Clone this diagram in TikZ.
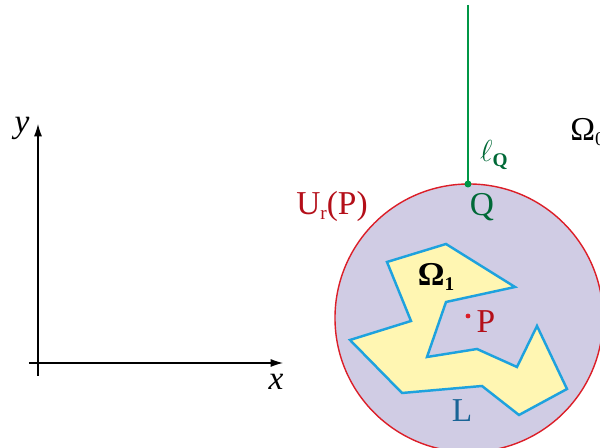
\documentclass[tikz,border=0pt]{standalone}
\usepackage{fontspec}
\setmainfont{Liberation Serif}
\usetikzlibrary{arrows.meta}
\definecolor{lav}{RGB}{208,204,228}
\definecolor{redc}{RGB}{220,30,40}
\definecolor{redt}{RGB}{180,15,25}
\definecolor{yel}{RGB}{255,246,178}
\definecolor{bluec}{RGB}{30,162,222}
\definecolor{bluet}{RGB}{25,100,150}
\definecolor{greenc}{RGB}{0,150,70}
\definecolor{greent}{RGB}{0,105,55}
\tikzset{
  lbl/.style={inner sep=0pt, font=\fontsize{19}{22}\selectfont},
  axis/.style={line width=0.6pt, -{Latex[length=7pt,width=4.5pt]}}
}
\newcommand{\sub}[1]{\raisebox{-0.35ex}{\fontsize{11}{13}\selectfont #1}}
\begin{document}
\begin{tikzpicture}[x=0.02cm,y=-0.02cm]
\useasboundingbox (0,0) rectangle (600,448);
\clip (0,0) rectangle (600,448);
% axes
\coordinate (xs) at (29,363);
\coordinate (xe) at (283,363);
\coordinate (ys) at (38,376);
\coordinate (ye) at (38,124);
\draw[axis] (xs) -- (xe);
\draw[axis] (ys) -- (ye);
\node[lbl] (xl) at (276,382) {\textit{x}};
\node[lbl] (yl) at (22,128) {\textit{y}};
% disc
\node[circle, draw=redc, fill=lav, line width=0.8pt, minimum size=268*0.02cm, inner sep=0pt] (U) at (469,318) {};
% polygon
\filldraw[fill=yel, draw=bluec, line width=1.4pt, line join=miter]
 (387,262) -- (446,244) -- (515,287) -- (446,302) -- (427,357) -- (477,349)
 -- (517,367) -- (537,326) -- (567,389) -- (519,415) -- (482,386) -- (402,393)
 -- (350,340) -- (411,321) -- cycle;
% line l_Q
\coordinate (top) at (468,5);
\coordinate (Q) at (468,184);
\draw[greenc, line width=0.8pt] (top) -- (Q);
\fill[greenc] (Q) circle (3.5);
% P
\fill[redc] (468,316) circle (2.4);
% labels
\node[lbl, text=redt] (Ul) at (332,206) {U\sub{r}(P)};
\node[lbl, text=greent] (Ql) at (482,207) {Q};
\node[lbl, text=greent] (ll) at (494,155) {$\ell$\sub{\textbf{Q}}};
\node[lbl, anchor=west] (O0) at (570,132) {Ω\sub{0}};
\node[lbl] (O1) at (436,277) {\textbf{Ω}\sub{\textbf{1}}};
\node[lbl, text=redt] (Pl) at (486,322) {P};
\node[lbl, text=bluet] (Ll) at (462,411) {L};
\end{tikzpicture}
\end{document}
